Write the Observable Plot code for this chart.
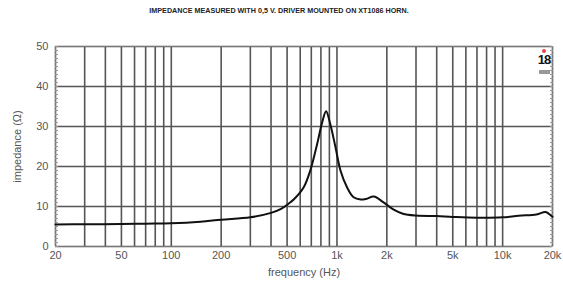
<!DOCTYPE html>
<html>
<head>
<meta charset="utf-8">
<script src="https://cdn.jsdelivr.net/npm/d3@7"></script>
<script src="https://cdn.jsdelivr.net/npm/@observablehq/plot@0.6"></script>
<style>
  html, body { margin: 0; padding: 0; background: #fff; }
  #wrap { position: relative; width: 563px; height: 283px; font-family: "Liberation Sans", Arial, sans-serif; }
  #title { height: 20px; line-height: 22px; text-align: center; font-size: 7.2px; font-weight: bold; color: #222; width: 558px; }
  #logo { position: absolute; left: 537px; top: 49px; width: 14px; text-align: center; }
  #logo .dot { width: 4px; height: 4px; background: #e44; border-radius: 50%; margin: 0 auto; }
  #logo .num { font-size: 13px; font-weight: bold; line-height: 14px; color: #111; letter-spacing: -1px; }
  #logo .bar { width: 11px; height: 4px; background: #999; margin: 3px auto 0; }
</style>
</head>
<body>
<div id="wrap">
  <div id="title">IMPEDANCE MEASURED WITH 0,5 V. DRIVER MOUNTED ON XT1086 HORN.</div>
  <div id="chart"></div>
  <div id="logo"><div class="dot"></div><div class="num">18</div><div class="bar"></div></div>
</div>
<script>
const freq = [20, 30, 50, 70, 100, 150, 200, 300, 400, 460, 510, 550, 630, 690, 760, 815, 860, 910, 980, 1050, 1150, 1260, 1390, 1500, 1670, 1900, 2200, 2500, 3000, 4000, 5000, 7000, 10000, 12500, 16000, 18200, 19500, 20000];
const impedance = [5.5, 5.55, 5.6, 5.7, 5.8, 6.2, 6.7, 7.3, 8.4, 9.4, 10.7, 11.8, 14.8, 19.0, 25.7, 31.1, 33.8, 30.7, 24.8, 19.0, 14.8, 12.3, 11.75, 11.9, 12.5, 11.1, 9.2, 8.2, 7.75, 7.6, 7.4, 7.2, 7.3, 7.7, 8.0, 8.6, 7.8, 7.4];
const gridFreqs = [20,30,40,50,60,70,80,90,100,200,300,400,500,600,700,800,900,1000,2000,3000,4000,5000,6000,7000,8000,9000,10000,20000];
const xTickValues = [20, 50, 100, 200, 500, 1000, 2000, 5000, 10000, 20000];
const xTickLabels = ["20", "50", "100", "200", "500", "1k", "2k", "5k", "10k", "20k"];
const yTickValues = [0, 10, 20, 30, 40, 50];
const yMinorTicks = d3.range(0, 51, 1);

const data = freq.map((f, i) => ({f, z: impedance[i]}));
const xTicks = xTickValues.map((v, i) => ({v, label: xTickLabels[i]}));

const chart = Plot.plot({
  width: 563,
  height: 263,
  marginLeft: 55,
  marginRight: 11,
  marginTop: 26,
  marginBottom: 37,
  style: {fontFamily: "'Liberation Sans', Arial, sans-serif", fontSize: "11px", color: "#555", background: "#fff"},
  x: {type: "log", domain: [20, 20000], axis: null},
  y: {domain: [0, 50]},
  marks: [
    Plot.gridX(gridFreqs, {stroke: "#555", strokeOpacity: 1, strokeWidth: 1.6}),
    Plot.gridY(yTickValues, {stroke: "#555", strokeOpacity: 1, strokeWidth: 1.6}),
    Plot.frame({stroke: "#777", strokeWidth: 1}),
    Plot.axisY(yMinorTicks, {anchor: "left", tickSize: 3, dx: 3, tickFormat: () => "", label: null, stroke: "#999"}),
    Plot.axisY(yMinorTicks, {anchor: "right", tickSize: 3, dx: -3, tickFormat: () => "", label: null, stroke: "#999"}),
    Plot.axisY(yTickValues, {anchor: "left", tickSize: 0, tickPadding: 7, fontSize: 11, fill: "#555",
      label: "impedance (Ω)", labelAnchor: "center", labelArrow: "none", labelOffset: 42}),
    Plot.text(xTicks, {x: "v", text: "label", frameAnchor: "bottom", dy: 12, fontSize: 11, fill: "#555"}),
    Plot.text(["frequency (Hz)"], {frameAnchor: "bottom", dy: 29, fontSize: 11, fill: "#555"}),
    Plot.line(data, {x: "f", y: "z", stroke: "#111", strokeWidth: 2, curve: "catmull-rom"})
  ]
});
document.getElementById("chart").appendChild(chart);
</script>
</body>
</html>
